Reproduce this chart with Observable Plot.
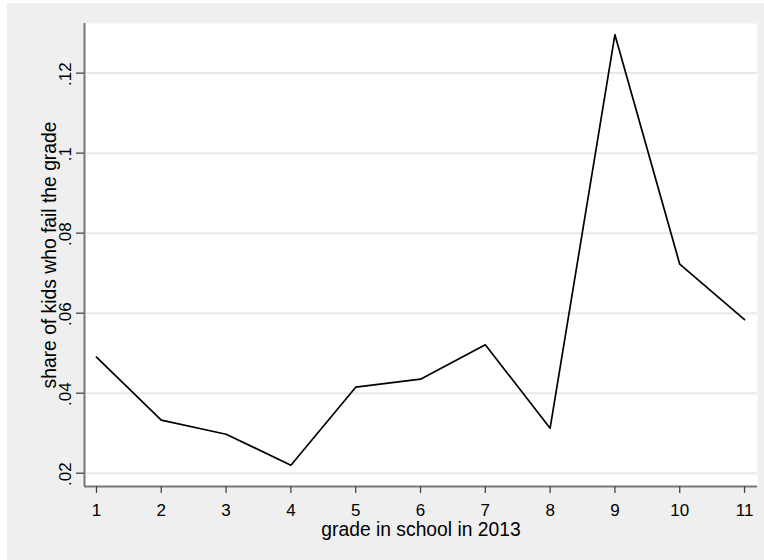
<!DOCTYPE html>
<html>
<head>
<meta charset="utf-8">
<script src="https://cdn.jsdelivr.net/npm/d3@7"></script>
<script src="https://cdn.jsdelivr.net/npm/@observablehq/plot@0.6"></script>
<style>
  html, body { margin: 0; padding: 0; background: #ffffff; }
  #chart { position: absolute; left: 7px; top: 3px; }
</style>
</head>
<body>
<div id="chart"></div>
<script>
// Data
const grades = [1, 2, 3, 4, 5, 6, 7, 8, 9, 10, 11];
const shares = [0.0490, 0.03325, 0.02975, 0.0220, 0.0415, 0.0435, 0.0521, 0.03125, 0.1296, 0.07225, 0.0584];
const xTicks = [1, 2, 3, 4, 5, 6, 7, 8, 9, 10, 11];
const yTicks = [0.02, 0.04, 0.06, 0.08, 0.10, 0.12];
const yTickLabels = [".02", ".04", ".06", ".08", ".1", ".12"];
const xTitle = "grade in school in 2013";
const yTitle = "share of kids who fail the grade";

const xDomain = [0.815, 11.2];
const yDomain = [0.01668, 0.1324];

const data = grades.map((g, i) => ({grade: g, share: shares[i]}));
const yLab = yTicks.map((v, i) => ({v, label: yTickLabels[i]}));

const font = "'Liberation Sans', Arial, Helvetica, sans-serif";

const chart = Plot.plot({
  width: 757,
  height: 557,
  marginLeft: 77,
  marginRight: 7,
  marginTop: 20,
  marginBottom: 74,
  x: {domain: xDomain},
  y: {domain: yDomain},
  style: {background: "#efefef", fontFamily: font, color: "#000"},
  marks: [
    Plot.frame({fill: "white", stroke: null}),
    Plot.gridY(yTicks, {stroke: "#e8e8e8", strokeOpacity: 1, strokeWidth: 2}),
    Plot.line(data, {x: "grade", y: "share", stroke: "black", strokeWidth: 1.7}),
    Plot.ruleX([xDomain[0]], {stroke: "#777", strokeWidth: 2}),
    Plot.ruleY([yDomain[0]], {stroke: "#777", strokeWidth: 2}),
    Plot.axisX(xTicks, {tickSize: 7, tickFormat: () => "", stroke: "#444", strokeWidth: 1.3, label: null}),
    Plot.axisY(yTicks, {tickSize: 8, tickFormat: () => "", stroke: "#444", strokeWidth: 1.3, label: null}),
    Plot.text(xTicks, {x: d => d, frameAnchor: "bottom", dy: 29, lineAnchor: "bottom", text: d => String(d), fontSize: 17, fill: "#000"}),
    Plot.text(yLab, {y: "v", frameAnchor: "left", dx: -14, dy: 1, rotate: -90, textAnchor: "middle", lineAnchor: "bottom", text: "label", fontSize: 17, fill: "#000"}),
    Plot.text([xTitle], {frameAnchor: "bottom", dy: 49, lineAnchor: "bottom", text: d => d, fontSize: 19.3, fill: "#000"}),
    Plot.text([yTitle], {frameAnchor: "left", dx: -29, rotate: -90, textAnchor: "middle", lineAnchor: "bottom", text: d => d, fontSize: 19.3, fill: "#000"})
  ]
});
document.getElementById("chart").appendChild(chart);
</script>
</body>
</html>
